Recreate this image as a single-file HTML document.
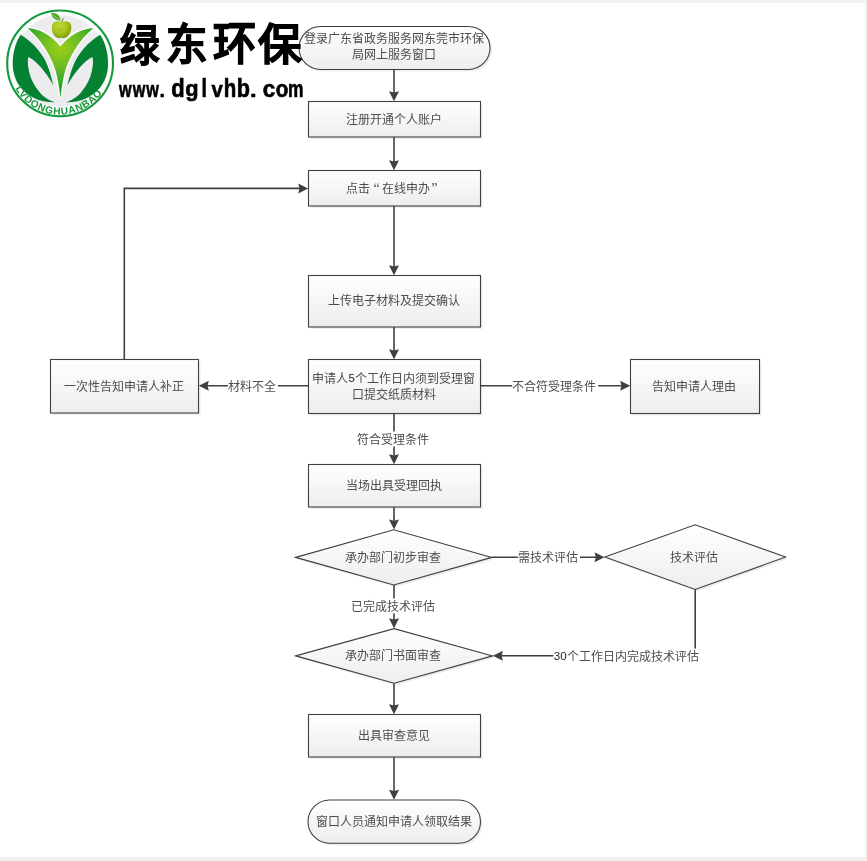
<!DOCTYPE html>
<html lang="zh-CN">
<head>
<meta charset="utf-8">
<style>
html,body{margin:0;padding:0;background:#fff;}
body{width:867px;height:861px;overflow:hidden;position:relative;}
svg{position:absolute;left:0;top:0;will-change:transform;}
.t{font-family:"Liberation Serif",serif;font-size:12px;fill:#4d4d4d;}
</style>
</head>
<body>
<svg width="867" height="861" viewBox="0 0 867 861">
<defs>
<linearGradient id="g" x1="0" y1="0" x2="0" y2="1">
<stop offset="0" stop-color="#ffffff"/>
<stop offset="1" stop-color="#ededed"/>
</linearGradient>
<linearGradient id="lg" x1="0" y1="0" x2="0" y2="1">
<stop offset="0" stop-color="#2aa530"/>
<stop offset="0.25" stop-color="#8cc81e"/>
<stop offset="0.55" stop-color="#70bd22"/>
<stop offset="1" stop-color="#15a02a"/>
</linearGradient>
<radialGradient id="lgr" cx="60.5" cy="48" r="40" gradientUnits="userSpaceOnUse">
<stop offset="0" stop-color="#9ccf1a"/>
<stop offset="0.5" stop-color="#6abb24"/>
<stop offset="1" stop-color="#1ea42a"/>
</radialGradient>
<radialGradient id="apple" cx="60" cy="26" r="12" gradientUnits="userSpaceOnUse">
<stop offset="0" stop-color="#c0d83a"/>
<stop offset="0.55" stop-color="#a8c81a"/>
<stop offset="1" stop-color="#86a012"/>
</radialGradient>
</defs>

<rect x="0" y="0" width="867" height="3" fill="#f2f2f2"/>
<rect x="865" y="0" width="2" height="861" fill="#f2f2f2"/>
<rect x="0" y="857" width="867" height="4" fill="#f2f2f2"/>
<g fill="#ededed">
<rect x="301" y="28.5" width="191" height="43" rx="21.5"/>
<rect x="310.5" y="103.5" width="172" height="35.5" rx="0"/>
<rect x="310.5" y="172.5" width="172" height="35.5" rx="0"/>
<rect x="310.5" y="277.5" width="172" height="51.5" rx="0"/>
<rect x="310.5" y="361.5" width="172" height="54" rx="0"/>
<rect x="52.5" y="361.5" width="148" height="53.5" rx="0"/>
<rect x="632.5" y="361.5" width="129" height="54" rx="0"/>
<rect x="310.5" y="466.5" width="172" height="42.5" rx="0"/>
<rect x="310.5" y="716.5" width="172" height="42.5" rx="0"/>
<rect x="310" y="802" width="172.5" height="43.3" rx="21.65"/>
<path d="M297.7,559.4 L395.8,531.7 L493.8,559.4 L395.8,587.0 Z"/>
<path d="M297.7,657.9 L396.1,630.6 L494.6,657.9 L396.1,685.2 Z"/>
<path d="M606.8,559.1 L697.2,526.8 L787.6,559.1 L697.2,591.4 Z"/>
</g>
<g fill="url(#g)" stroke="#404040" stroke-width="1.1">
<rect x="299" y="26.5" width="191" height="43" rx="21.5"/>
<rect x="308.5" y="101.5" width="172" height="35.5" rx="0"/>
<rect x="308.5" y="170.5" width="172" height="35.5" rx="0"/>
<rect x="308.5" y="275.5" width="172" height="51.5" rx="0"/>
<rect x="308.5" y="359.5" width="172" height="54" rx="0"/>
<rect x="50.5" y="359.5" width="148" height="53.5" rx="0"/>
<rect x="630.5" y="359.5" width="129" height="54" rx="0"/>
<rect x="308.5" y="464.5" width="172" height="42.5" rx="0"/>
<rect x="308.5" y="714.5" width="172" height="42.5" rx="0"/>
<rect x="308" y="800" width="172.5" height="43.3" rx="21.65"/>
<path d="M295.7,557.4 L393.8,529.7 L491.8,557.4 L393.8,585.0 Z"/>
<path d="M295.7,655.9 L394.1,628.6 L492.6,655.9 L394.1,683.2 Z"/>
<path d="M604.8,557.1 L695.2,524.8 L785.6,557.1 L695.2,589.4 Z"/>
</g>
<g fill="none" stroke="#404040" stroke-width="1.6">
<path d="M394.0,69.5 V93.2"/>
<path d="M394.0,137.0 V162.2"/>
<path d="M394.0,206.0 V267.2"/>
<path d="M394.0,327.0 V351.2"/>
<path d="M394.0,413.5 V456.2"/>
<path d="M394.0,507.0 V521.4"/>
<path d="M394.0,585.0 V620.3"/>
<path d="M394.0,683.2 V706.2"/>
<path d="M394.0,757.0 V791.8"/>
<path d="M308.5,385.8 H206.8"/>
<path d="M480.5,385.8 H622.2"/>
<path d="M124.3,359.5 V188.4 H300.2"/>
<path d="M491.8,557.3 H596.5"/>
<path d="M695.2,589.4 V655.8 H500.9"/>
</g>
<polygon points="394.00,101.20 389.00,91.20 394.00,92.50 399.00,91.20" fill="#404040"/>
<polygon points="394.00,170.20 389.00,160.20 394.00,161.50 399.00,160.20" fill="#404040"/>
<polygon points="394.00,275.20 389.00,265.20 394.00,266.50 399.00,265.20" fill="#404040"/>
<polygon points="394.00,359.20 389.00,349.20 394.00,350.50 399.00,349.20" fill="#404040"/>
<polygon points="394.00,464.20 389.00,454.20 394.00,455.50 399.00,454.20" fill="#404040"/>
<polygon points="394.00,529.40 389.00,519.40 394.00,520.70 399.00,519.40" fill="#404040"/>
<polygon points="394.00,628.30 389.00,618.30 394.00,619.60 399.00,618.30" fill="#404040"/>
<polygon points="394.00,714.20 389.00,704.20 394.00,705.50 399.00,704.20" fill="#404040"/>
<polygon points="394.00,799.80 389.00,789.80 394.00,791.10 399.00,789.80" fill="#404040"/>
<polygon points="198.80,385.80 208.80,380.80 207.50,385.80 208.80,390.80" fill="#404040"/>
<polygon points="630.20,385.80 620.20,380.80 621.50,385.80 620.20,390.80" fill="#404040"/>
<polygon points="308.20,188.40 298.20,183.40 299.50,188.40 298.20,193.40" fill="#404040"/>
<polygon points="604.50,557.30 594.50,552.30 595.80,557.30 594.50,562.30" fill="#404040"/>
<polygon points="492.90,655.80 502.90,650.80 501.60,655.80 502.90,660.80" fill="#404040"/>
<g fill="#fff">
<rect x="357.0" y="431.5" width="74" height="15"/>
<rect x="351.0" y="598.5" width="86" height="15"/>
<rect x="228.0" y="378.5" width="50" height="15"/>
<rect x="512.2" y="378.5" width="86" height="15"/>
<rect x="518.0" y="549.5" width="62" height="15"/>
<rect x="553.5" y="648.5" width="147" height="15"/>
</g>
<g class="t" text-anchor="middle" dominant-baseline="central">
<text x="393.7" y="39.3">登录广东省政务服务网东莞市环保</text>
<text x="393.7" y="54.8">局网上服务窗口</text>
<text x="393.7" y="119.8">注册开通个人账户</text>
<text x="393.7" y="301.3">上传电子材料及提交确认</text>
<text x="393.7" y="378.8">申请人<tspan font-family="Liberation Sans, sans-serif" font-size="11.5" fill="#222" baseline-shift="0.8">5</tspan>个工作日内须到受理窗</text>
<text x="393.7" y="395.1">口提交纸质材料</text>
<text x="123.7" y="386.8">一次性告知申请人补正</text>
<text x="694.2" y="386.8">告知申请人理由</text>
<text x="393.7" y="486.3">当场出具受理回执</text>
<text x="393.2" y="558.1">承办部门初步审查</text>
<text x="393.2" y="656.3">承办部门书面审查</text>
<text x="694.2" y="557.8">技术评估</text>
<text x="393.7" y="736.3">出具审查意见</text>
<text x="393.7" y="822.3">窗口人员通知申请人领取结果</text>
<text x="393.2" y="439.8">符合受理条件</text>
<text x="393.2" y="606.8">已完成技术评估</text>
<text x="252.2" y="386.8">材料不全</text>
<text x="554.4" y="386.8">不合符受理条件</text>
<text x="548.2" y="557.8">需技术评估</text>
<text x="626.2" y="656.8"><tspan font-family="Liberation Sans, sans-serif" font-size="11.5" fill="#222" baseline-shift="0.8">30</tspan>个工作日内完成技术评估</text>
</g>
<g class="t" dominant-baseline="central"><text x="345.5" y="188.8">点击<tspan dx="4" font-size="14" dy="-0.8">“</tspan><tspan dx="2.4" dy="0.8">在线申办</tspan><tspan dx="1.2" font-size="14" dy="-0.8">”</tspan></text></g>
<g id="logo">
<circle cx="60.1" cy="63.4" r="52.9" fill="#fcfcfd" stroke="#139a3c" stroke-width="2.1"/>
<circle cx="60.3" cy="61" r="45.8" fill="#ececee"/>
<g id="half" fill="#048232">
<path d="M20.7,34.8 C14.5,44 12.2,56 12.8,67 C13.9,80 20.5,91 33,97.5 C40,101 48,102.5 54.8,102.3 C48,100 42,96 38,90 C32,83 28,72 27.8,62 C27.8,60 28,58 28.5,57 C35,60 45,70 53.3,85.3 C51,75 48,65 43.6,57.5 C37,47 29,40 20.7,34.8 Z"/>
</g>
<use href="#half" transform="translate(120.8,0) scale(-1,1)"/>
<path fill="url(#lgr)" stroke="#fbfbfd" stroke-width="3" paint-order="stroke" d="M60.5,99 C60,92 58,80 56,72 C52,58 42,40 27.6,28.3 C38,28.5 50,34 60.4,46.4 C70.8,34 82.8,28.5 93.2,28.3 C78.8,40 68.8,58 64.8,72 C62.8,80 61,92 60.5,99 Z"/>
<path d="M61.5,22.6 C64,20.7 68,20.7 70.1,23 C72.1,25.5 71.6,30 70.1,33 C68.6,36 66,38.1 63.5,38.2 C62.6,38.2 61.9,37.8 61.3,37.8 C60.7,37.8 60,38.2 59,38.2 C56.4,38 54,36 52.7,33 C51.4,30 51.5,25.5 53.1,23 C55,20.7 59,20.7 61.5,22.6 Z" fill="url(#apple)" stroke="#fbfbfd" stroke-width="0.8" paint-order="stroke"/>
<ellipse cx="60.5" cy="29.5" rx="3" ry="2.2" fill="#98b414" opacity="0.35"/>
<path d="M51.1,13.2 C55.5,12.3 60,14.8 60.7,20.4 C56,20.9 52,17.8 51.1,13.2 Z" fill="#4ea62a"/>
<path d="M52.5,15 C55,16.5 57.5,18.5 59.8,20" stroke="#9ccf7a" stroke-width="0.9" fill="none"/>
<path d="M61.6,22.2 L63.4,18.2" stroke="#7c8e3a" stroke-width="1.1"/>
<defs><path id="arc" d="M8.7,63.2 A51.5,51.5 0 0 0 111.7,63.2"/></defs>
<text font-family="Liberation Sans, sans-serif" font-size="10.2" font-weight="bold" fill="#17973c"><textPath href="#arc" startOffset="26.4" textLength="103.4" lengthAdjust="spacing">LVDONGHUANBAO</textPath></text>
</g>

<g font-family="Liberation Sans, sans-serif" font-weight="bold" font-size="100" fill="#000" stroke="#000" stroke-width="2.0">
<text transform="matrix(0.3941,0,0,0.4340,120.20,60.86)">绿</text>
<text transform="matrix(0.4151,0,0,0.4296,165.84,60.30)">东</text>
<text transform="matrix(0.4323,0,0,0.4495,212.67,59.66)">环</text>
<text transform="matrix(0.4347,0,0,0.4357,258.00,60.41)">保</text>
</g>
<g font-family="Liberation Sans, sans-serif" font-weight="bold" font-size="50" fill="#000" stroke="#000" stroke-width="1.4" stroke-linejoin="round">
<text transform="matrix(0.3243,0,0,0.4577,119.03,97.08)">w</text>
<text transform="matrix(0.3243,0,0,0.4577,132.63,97.08)">w</text>
<text transform="matrix(0.3243,0,0,0.4577,146.33,97.08)">w</text>
<text transform="matrix(0.3929,0,0,0.4048,159.50,97.12)">.</text>
<text transform="matrix(0.4394,0,0,0.5053,171.33,96.85)">d</text>
<text transform="matrix(0.4356,0,0,0.4349,185.23,96.45)">g</text>
<text transform="matrix(0.3929,0,0,0.5000,201.60,96.85)">l</text>
<text transform="matrix(0.4085,0,0,0.4507,211.49,96.88)">v</text>
<text transform="matrix(0.4094,0,0,0.5000,223.86,96.85)">h</text>
<text transform="matrix(0.4318,0,0,0.5053,236.81,97.05)">b</text>
<text transform="matrix(0.4762,0,0,0.4048,249.90,97.12)">.</text>
<text transform="matrix(0.4488,0,0,0.4613,262.72,97.08)">c</text>
<text transform="matrix(0.4120,0,0,0.4683,275.66,97.17)">o</text>
<text transform="matrix(0.3477,0,0,0.4613,287.90,96.98)">m</text>
</g>
</svg>
</body>
</html>
